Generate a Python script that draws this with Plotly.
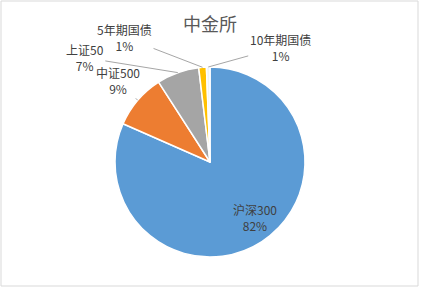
import math
import plotly.graph_objects as go

categories = ["沪深300", "中证500", "上证50", "5年期国债", "10年期国债"]
values = [81.6, 9.3, 7.2, 1.3, 0.6]
colors = ["#5B9BD5", "#ED7D31", "#A5A5A5", "#FFC000", "#EEF4FA"]

W, H = 421, 288
CX, CY, R = 210, 162, 95  # pie centre / radius in pixels

# label offsets (pixels, text centre relative to slice edge point)
label_offsets = [None, (-20, -20), (-93, -15), (-78, -30), (72, -20)]

fig = go.Figure(go.Pie(
    labels=categories, values=values, sort=False, direction="clockwise", rotation=0,
    marker=dict(colors=colors, line=dict(color="white", width=1.5)),
    textinfo="none", hoverinfo="label+percent", showlegend=False,
    domain=dict(x=[(CX - R) / W, (CX + R) / W], y=[(H - CY - R) / H, (H - CY + R) / H]),
))

total = sum(values)
cum = 0
annotations = []
for i, (cat, v) in enumerate(zip(categories, values)):
    mid = (cum + v / 2) / total * 2 * math.pi
    cum += v
    pct = f"{round(v / total * 100):.0f}%"
    text = f"{cat}<br>{pct}"
    if label_offsets[i] is None:
        r = 0.76 * R
        px = CX + r * math.sin(mid) + 6
        py = CY - r * math.cos(mid) - 5
        annotations.append(dict(x=px / W, y=1 - py / H, xref="paper", yref="paper",
                                xanchor="center", yanchor="middle",
                                text=text, showarrow=False,
                                font=dict(size=12, color="#404040")))
    else:
        px = CX + R * math.sin(mid)
        py = CY - R * math.cos(mid)
        ax, ay = label_offsets[i]
        annotations.append(dict(x=px / W, y=1 - py / H, xref="paper", yref="paper",
                                text=text, showarrow=True, arrowhead=0, arrowwidth=1,
                                arrowcolor="#A6A6A6", ax=ax, ay=ay, standoff=0,
                                font=dict(size=12, color="#404040")))

annotations.append(dict(x=209.5 / W, y=1 - 23 / H, xref="paper", yref="paper",
                        xanchor="center", yanchor="middle",
                        text="中金所", showarrow=False,
                        font=dict(size=18, color="#595959")))

fig.update_layout(
    width=W, height=H,
    margin=dict(l=0, r=0, t=0, b=0),
    paper_bgcolor="white", plot_bgcolor="white",
    font=dict(family="Noto Sans CJK SC, sans-serif", size=12, color="#404040"),
    annotations=annotations,
    shapes=[dict(type="rect", xref="paper", yref="paper",
                 x0=1 / W, x1=(W - 3) / W, y0=2 / H, y1=1 - 1 / H,
                 line=dict(color="#D9D9D9", width=1))],
)

fig.write_html("out.html")
